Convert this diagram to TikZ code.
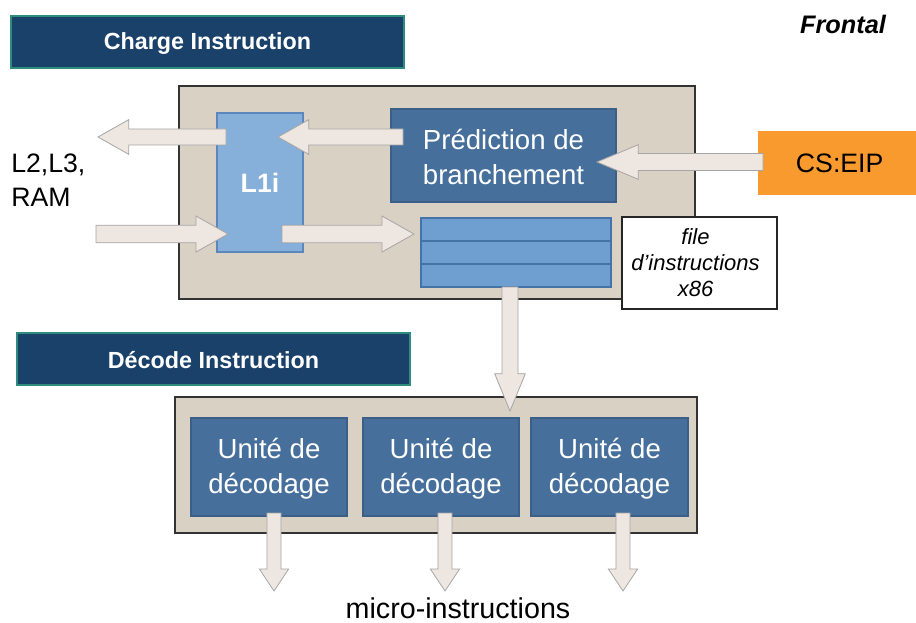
\documentclass[tikz,border=0pt]{standalone}
\usepackage{fontspec}
\setmainfont{Liberation Sans}
\usetikzlibrary{calc,fit}
\definecolor{hdr}{HTML}{1A416A}
\definecolor{hdrb}{HTML}{2E8C7C}
\definecolor{panel}{HTML}{DAD1C5}
\definecolor{lone}{HTML}{86AFD9}
\definecolor{loneb}{HTML}{5B87BC}
\definecolor{unit}{HTML}{46709B}
\definecolor{unitb}{HTML}{3B5F86}
\definecolor{queue}{HTML}{6F9ED0}
\definecolor{queueb}{HTML}{4573A8}
\definecolor{cseip}{HTML}{F99A2F}
\definecolor{arr}{HTML}{EEE6E0}
\definecolor{arrb}{HTML}{A5A5A5}
\tikzset{
  box/.style={inner sep=0pt, outer sep=0pt},
  hdrbox/.style={box, fill=hdr, draw=hdrb, line width=0.8pt},
  hdrtext/.style={text=white, font=\bfseries\fontsize{17.5pt}{21pt}\selectfont},
  panelbox/.style={box, fill=panel, draw=black!80, line width=0.8pt},
  lonebox/.style={box, fill=lone, draw=loneb, line width=0.8pt},
  unitbox/.style={box, fill=unit, draw=unitb, line width=0.8pt},
  unittext/.style={text=white, align=center, font=\fontsize{20.7pt}{26pt}\selectfont},
  queuebox/.style={box, fill=queue, draw=queueb, line width=0.8pt},
  orangebox/.style={box, fill=cseip},
  labelbox/.style={box, fill=white, draw=black!85, line width=0.8pt},
  plaintext/.style={inner sep=0pt, font=\fontsize{20pt}{25.5pt}\selectfont},
  barr/.style={fill=arr, draw=arrb, line width=0.6pt, line join=miter},
}
% tail, tip, shaft half width, head half width, head length
\newcommand\blockarrow[5]{%
  \path ($(#2)!#5!(#1)$) coordinate (bah);
  \draw[barr] ($(#1)!#3!90:(#2)$) -- ($(bah)!#3!-90:(#1)$) -- ($(bah)!#4!-90:(#1)$)
    -- (#2) -- ($(bah)!#4!90:(#1)$) -- ($(bah)!#3!90:(#1)$) -- ($(#1)!#3!-90:(#2)$) -- cycle;
}
\begin{document}
\begin{tikzpicture}[x=0.75pt,y=-0.75pt]
\useasboundingbox (0,0) rectangle (916,623);

% headers
\node[hdrbox, fit={(11,16) (404,68)}] (h1) {};
\node[hdrtext] (h1t) at ([yshift=-1.5pt]h1.center) {Charge Instruction};
\node[hdrbox, fit={(17,333) (410,385)}] (h2) {};
\node[hdrtext] (h2t) at ([yshift=-1pt]h2.center) {Décode Instruction};
\node[font=\bfseries\itshape\fontsize{19pt}{22pt}\selectfont] (frontal) at (843,24) {Frontal};

% top panel
\node[panelbox, fit={(179,86) (695,299)}] (p1) {};
\node[lonebox, fit={(217,113) (303,252)}] (l1i) {};
\node[text=white, font=\bfseries\fontsize{20pt}{24pt}\selectfont] (l1it) at (260,183) {L1i};
\node[unitbox, fit={(391,109) (616,202)}] (pred) {};
\node[unittext] (predt) at ([yshift=-1pt]pred.center) {Prédiction de\\branchement};
\node[queuebox, fit={(421,218) (611,287)}] (q) {};
\draw[queueb, line width=0.8pt] ($(q.north west)!1/3!(q.south west)$) -- ($(q.north east)!1/3!(q.south east)$);
\draw[queueb, line width=0.8pt] ($(q.north west)!2/3!(q.south west)$) -- ($(q.north east)!2/3!(q.south east)$);
\node[labelbox, fit={(622,217) (777,309)}] (lbl) {};
\node[align=center, font=\itshape\fontsize{16.5pt}{19.5pt}\selectfont] (lblt) at ([xshift=-3pt]lbl.center) {file\\d’instructions\\x86};
\node[orangebox, fit={(758,131) (916,195)}] (cs) {};
\node[font=\fontsize{20pt}{24pt}\selectfont] (cst) at ([xshift=2pt]cs.center) {CS:EIP};
\node[plaintext, anchor=west, align=left] (mem) at (11,180) {L2,L3,\\RAM};

% decode panel
\node[panelbox, fit={(175,397) (697,533)}] (p2) {};
\node[unitbox, fit={(191,418) (347,516)}] (u1) {};
\node[unitbox, fit={(363,418) (519,516)}] (u2) {};
\node[unitbox, fit={(531,418) (688,516)}] (u3) {};
\node[unittext] (u1t) at ([yshift=-1.5pt]u1.center) {Unité de\\décodage};
\node[unittext] (u2t) at ([yshift=-1.5pt]u2.center) {Unité de\\décodage};
\node[unittext] (u3t) at ([yshift=-1.5pt]u3.center) {Unité de\\décodage};
\node[plaintext, font=\fontsize{21.5pt}{26pt}\selectfont] (micro) at (458,608) {micro-instructions};

% arrow endpoints
\coordinate (a1t) at (226,137); \coordinate (a1p) at (98,137);
\coordinate (a2t) at (403,137); \coordinate (a2p) at (278,137);
\coordinate (a3t) at (763,162); \coordinate (a3p) at (597,162);
\coordinate (a4t) at (96,234);  \coordinate (a4p) at (228,234);
\coordinate (a5t) at (282,234); \coordinate (a5p) at (414,234);
\coordinate (a6t) at (510,287); \coordinate (a6p) at (510,411);
\coordinate (a7t) at (274,513); \coordinate (a7p) at (274,591);
\coordinate (a8t) at (445,513); \coordinate (a8p) at (445,591);
\coordinate (a9t) at (623,513); \coordinate (a9p) at (623,591);

\blockarrow{a1t}{a1p}{6pt}{13pt}{23pt}
\blockarrow{a2t}{a2p}{6pt}{13pt}{23pt}
\blockarrow{a3t}{a3p}{6.4pt}{13pt}{31pt}
\blockarrow{a4t}{a4p}{6.6pt}{13.5pt}{24pt}
\blockarrow{a5t}{a5p}{6.6pt}{13.5pt}{24pt}
\blockarrow{a6t}{a6p}{6pt}{11.5pt}{28pt}
\blockarrow{a7t}{a7p}{5.3pt}{11pt}{16.5pt}
\blockarrow{a8t}{a8p}{5.3pt}{11pt}{16.5pt}
\blockarrow{a9t}{a9p}{5.3pt}{11pt}{16.5pt}
\end{tikzpicture}
\end{document}
